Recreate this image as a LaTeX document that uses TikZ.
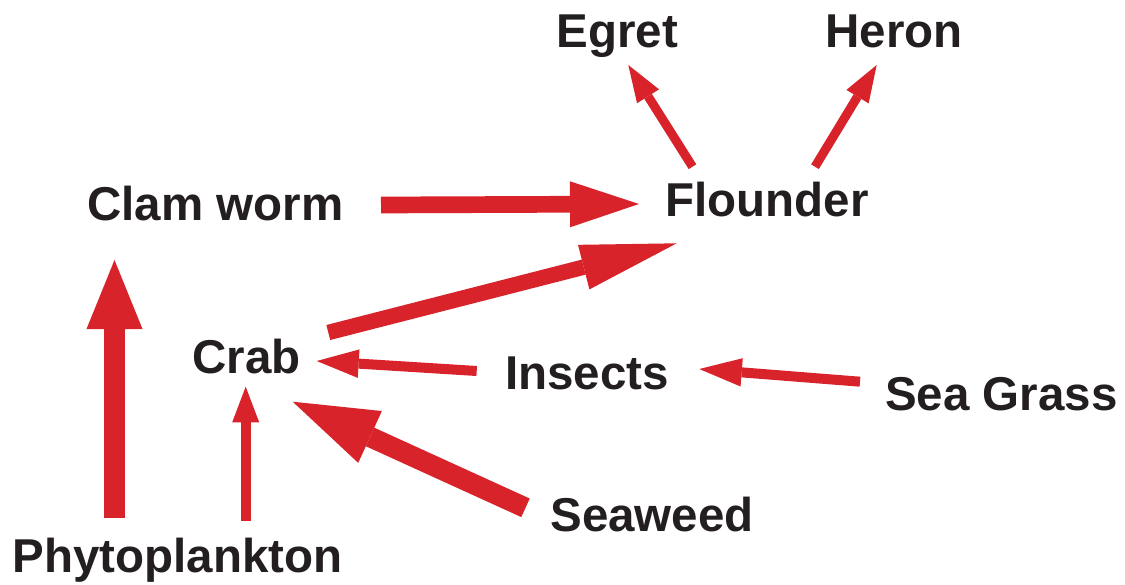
\documentclass[tikz,border=0pt]{standalone}
\usepackage{fontspec}
\setmainfont{Liberation Sans}
\usetikzlibrary{arrows.meta}
\definecolor{arrred}{RGB}{216,35,43}
\definecolor{txt}{RGB}{35,31,32}
\begin{document}
\begin{tikzpicture}[x=1pt,y=-1pt,
  lbl/.style={anchor=base,inner sep=0pt,text=txt,font=\fontsize{47.5}{57}\selectfont\bfseries},
  arr/.style args={#1/#2/#3}{draw=arrred,line width=#1pt,
    -{Triangle[length=#2pt,width=#3pt,line width=0pt,fill=arrred]}}]
\useasboundingbox (0,0) rectangle (1125,584);
% labels
\node[lbl] (egret)  at (617.5,47) {Egret};
\node[lbl] (heron)  at (894,47) {Heron};
\node[lbl] (clam)   at (215.5,220) {Clam worm};
\node[lbl] (flound) at (767,216) {Flounder};
\node[lbl] (crab)   at (246.5,373) {Crab};
\node[lbl] (insect) at (587,389) {Insects};
\node[lbl] (grass)  at (1001.5,410) {Sea Grass};
\node[lbl] (seaw)   at (652,531) {Seaweed};
\node[lbl] (phyto)  at (177.5,572) {Phytoplankton};
% arrow end points
\coordinate (clamOut)   at (381,205);
\coordinate (flIn1)     at (639,204);
\coordinate (flOut1)    at (692.5,166.7);
\coordinate (egretIn)   at (628.3,65);
\coordinate (flOut2)    at (815,166.7);
\coordinate (heronIn)   at (876.7,65);
\coordinate (crabOut)   at (328.3,332.5);
\coordinate (flIn2)     at (676.7,243.3);
\coordinate (insOut)    at (476.7,371);
\coordinate (crabIn1)   at (316.7,361);
\coordinate (grassOut)  at (860,381.7);
\coordinate (insIn)     at (699.3,369);
\coordinate (seawOut)   at (525.5,507.8);
\coordinate (crabIn2)   at (292.7,401.7);
\coordinate (phyOut1)   at (114.5,518.3);
\coordinate (clamIn)    at (114.5,260);
\coordinate (phyOut2)   at (245.7,520.7);
\coordinate (crabIn3)   at (245.7,386.7);
% arrows
\draw[arr=16.7/69/46] (clamOut) -- (flIn1);
\draw[arr=9/37/26] (flOut1) -- (egretIn);
\draw[arr=9/37/26] (flOut2) -- (heronIn);
\draw[arr=15.5/96/46] (crabOut) -- (flIn2);
\draw[arr=10/42/28.5] (insOut) -- (crabIn1);
\draw[arr=10/42.5/28.4] (grassOut) -- (insIn);
\draw[arr=20.4/85/57] (seawOut) -- (crabIn2);
\draw[arr=20.3/69/56] (phyOut1) -- (clamIn);
\draw[arr=10/35.6/27] (phyOut2) -- (crabIn3);
\end{tikzpicture}
\end{document}
